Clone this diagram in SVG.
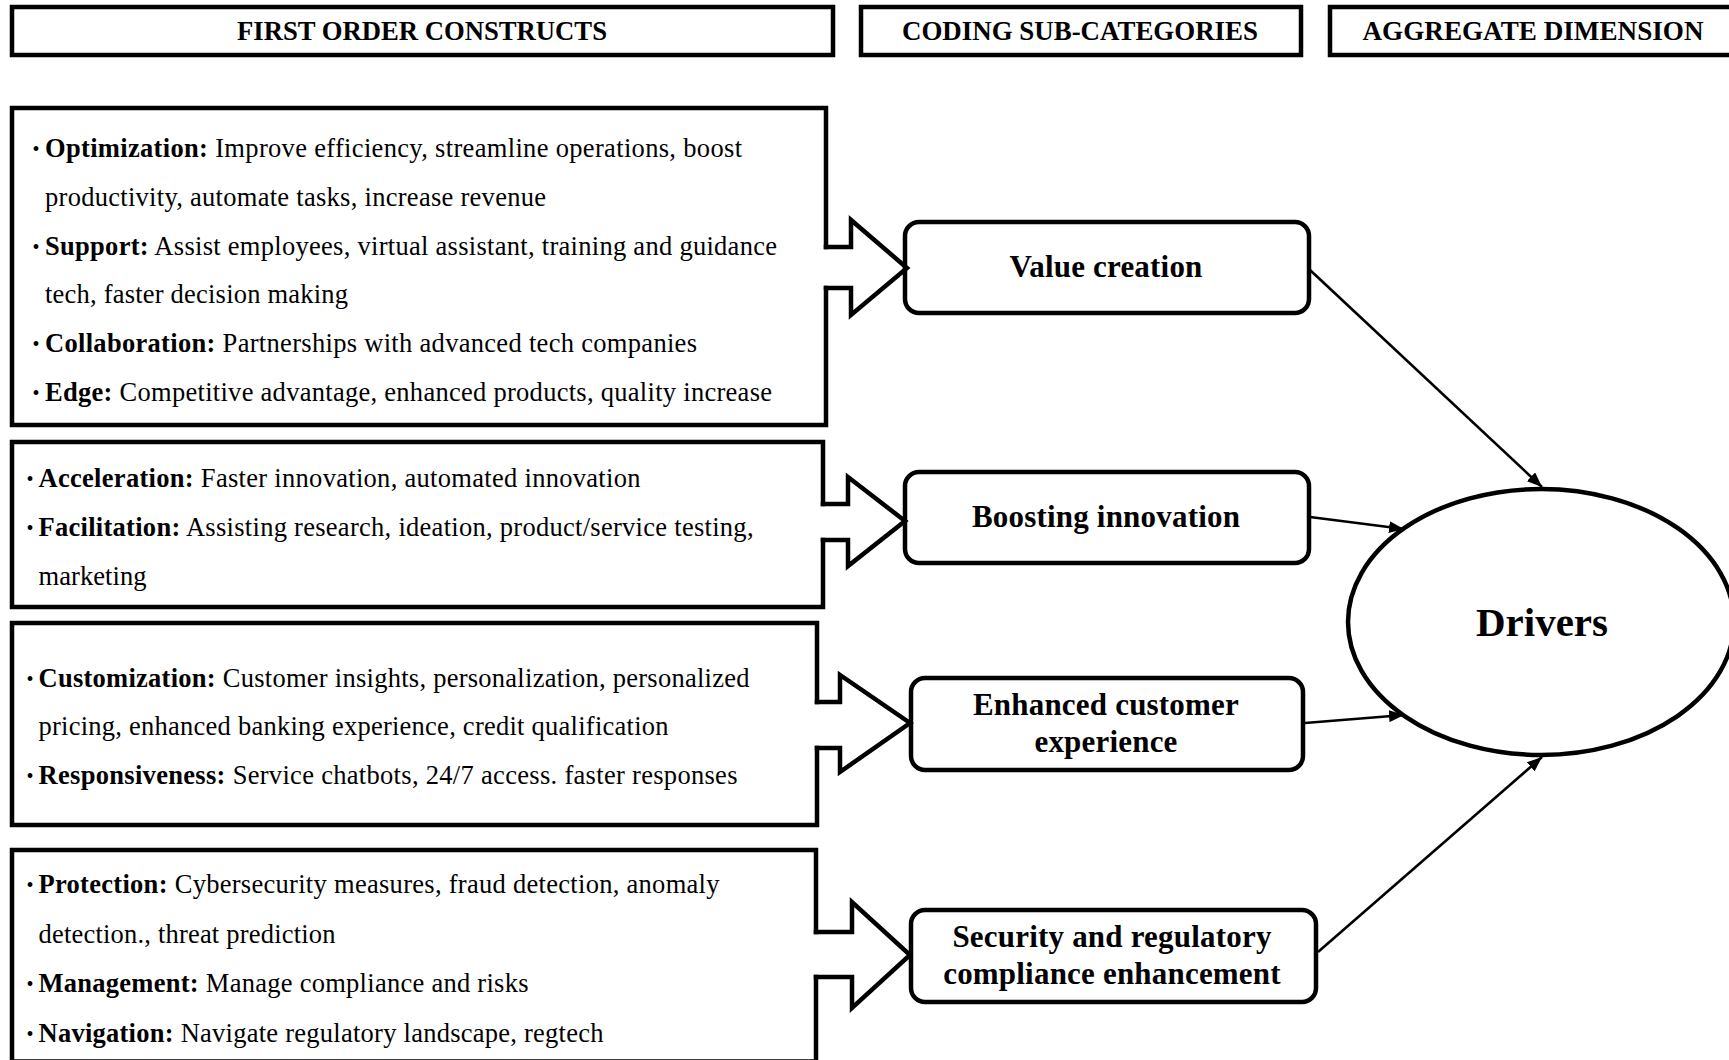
<svg xmlns="http://www.w3.org/2000/svg" width="1729" height="1060" viewBox="0 0 1729 1060">
<defs>
<marker id="ah" markerUnits="userSpaceOnUse" markerWidth="16" markerHeight="12" refX="15" refY="6" orient="auto"><path d="M0,0 L15,6 L0,12 z" fill="#000"/></marker>
<style>
.hdr {fill:#fff; stroke:#000; stroke-width:4.5}
.ht {font-family:"Liberation Serif","Times New Roman",serif; font-weight:bold; font-size:28px; text-anchor:middle; fill:#000}
.box {fill:none; stroke:#000; stroke-width:4.5; stroke-linejoin:miter; stroke-linecap:square}
.blk {fill:none; stroke:#000; stroke-width:4.5; stroke-linejoin:miter; stroke-linecap:square}
.bt {font-family:"Liberation Serif","Times New Roman",serif; font-size:26.5px; fill:#000}
.b {font-weight:bold}
.bul {font-family:"Liberation Serif","Times New Roman",serif; font-size:20px; text-anchor:middle; fill:#000}
.sub {fill:#fff; stroke:#000; stroke-width:4.5}
.st {font-family:"Liberation Serif","Times New Roman",serif; font-weight:bold; font-size:31px; letter-spacing:0.2px; text-anchor:middle; fill:#000}
.conn {stroke:#000; stroke-width:2.6; fill:none; marker-end:url(#ah)}
</style>
</defs>
<rect width="1729" height="1060" fill="#fff"/>

<g id="header-first-order">
<rect class="hdr" x="12" y="7" width="821" height="48"/>
<text class="ht" x="422" y="40" textLength="370" lengthAdjust="spacingAndGlyphs">FIRST ORDER CONSTRUCTS</text>
</g>
<g id="header-coding">
<rect class="hdr" x="861" y="7" width="440" height="48"/>
<text class="ht" x="1080" y="40" textLength="356" lengthAdjust="spacingAndGlyphs">CODING SUB-CATEGORIES</text>
</g>
<g id="header-aggregate">
<rect class="hdr" x="1330" y="7" width="420" height="48"/>
<text class="ht" x="1533" y="40" textLength="341" lengthAdjust="spacingAndGlyphs">AGGREGATE DIMENSION</text>
</g>

<g id="fo-value">
<path class="box" d="M826,247 V108 H12 V425 H826 V288"/>
<text class="bul" x="36" y="156">•</text>
<text class="bt" x="45" y="157" textLength="697"><tspan class="b">Optimization:</tspan> Improve efficiency, streamline operations, boost</text>
<text class="bt" x="45" y="206" textLength="501">productivity, automate tasks, increase revenue</text>
<text class="bul" x="36" y="254">•</text>
<text class="bt" x="45" y="255" textLength="732"><tspan class="b">Support:</tspan> Assist employees, virtual assistant, training and guidance</text>
<text class="bt" x="45" y="303" textLength="303">tech, faster decision making</text>
<text class="bul" x="36" y="351">•</text>
<text class="bt" x="45" y="352" textLength="652"><tspan class="b">Collaboration:</tspan> Partnerships with advanced tech companies</text>
<text class="bul" x="36" y="400">•</text>
<text class="bt" x="45" y="401" textLength="727"><tspan class="b">Edge:</tspan> Competitive advantage, enhanced products, quality increase</text>
</g>

<g id="fo-innovation">
<path class="box" d="M823,504 V442 H12 V607 H823 V540"/>
<text class="bul" x="30" y="486">•</text>
<text class="bt" x="38.5" y="487" textLength="602"><tspan class="b">Acceleration:</tspan> Faster innovation, automated innovation</text>
<text class="bul" x="30" y="535">•</text>
<text class="bt" x="38.5" y="536" textLength="715"><tspan class="b">Facilitation:</tspan> Assisting research, ideation, product/service testing,</text>
<text class="bt" x="38.5" y="585" textLength="108">marketing</text>
</g>

<g id="fo-customer">
<path class="box" d="M817,702 V623 H12 V825 H817 V748"/>
<text class="bul" x="30" y="686">•</text>
<text class="bt" x="38.5" y="687" textLength="711"><tspan class="b">Customization:</tspan> Customer insights, personalization, personalized</text>
<text class="bt" x="38.5" y="735" textLength="630">pricing, enhanced banking experience, credit qualification</text>
<text class="bul" x="30" y="783">•</text>
<text class="bt" x="38.5" y="784" textLength="699"><tspan class="b">Responsiveness:</tspan> Service chatbots, 24/7 access. faster responses</text>
</g>

<g id="fo-security">
<path class="box" d="M816,932 V850 H12 V1061.5 H816 V977"/>
<text class="bul" x="30" y="892">•</text>
<text class="bt" x="38.5" y="893" textLength="681"><tspan class="b">Protection:</tspan> Cybersecurity measures, fraud detection, anomaly</text>
<text class="bt" x="38.5" y="943" textLength="297">detection., threat prediction</text>
<text class="bul" x="30" y="991">•</text>
<text class="bt" x="38.5" y="992" textLength="490"><tspan class="b">Management:</tspan> Manage compliance and risks</text>
<text class="bul" x="30" y="1041">•</text>
<text class="bt" x="38.5" y="1042" textLength="565"><tspan class="b">Navigation:</tspan> Navigate regulatory landscape, regtech</text>
</g>

<g id="sub-value-creation">
<rect class="sub" x="905" y="222" width="404" height="91" rx="14"/>
<text class="st" x="1106" y="277">Value creation</text>
</g>
<g id="sub-boosting-innovation">
<rect class="sub" x="905" y="472" width="404" height="91" rx="14"/>
<text class="st" x="1106" y="527">Boosting innovation</text>
</g>
<g id="sub-enhanced-customer">
<rect class="sub" x="911" y="678" width="392" height="92" rx="14"/>
<text class="st" x="1106" y="715">Enhanced customer</text>
<text class="st" x="1106" y="752">experience</text>
</g>
<g id="sub-security">
<rect class="sub" x="911" y="910" width="405" height="92" rx="14"/>
<text class="st" x="1112" y="947">Security and regulatory</text>
<text class="st" x="1112" y="984">compliance enhancement</text>
</g>

<g id="drivers">
<ellipse cx="1541" cy="622" rx="193" ry="133" fill="#fff" stroke="#000" stroke-width="4.5"/>
<text x="1542" y="636" font-family="'Liberation Serif','Times New Roman',serif" font-weight="bold" font-size="41" text-anchor="middle">Drivers</text>
</g>

<g id="connectors">
<path class="blk" d="M826,247 H851 V220 L907,268 L851,315 V288 H826"/>
<path class="blk" d="M823,504 H848 V477 L905,521 L848,566 V540 H823"/>
<path class="blk" d="M817,702 H840 V675 L910,723 L840,772 V748 H817"/>
<path class="blk" d="M816,932 H852 V902 L910,955 L852,1008 V977 H816"/>
<line class="conn" x1="1310" y1="270" x2="1542" y2="487"/>
<line class="conn" x1="1310" y1="517" x2="1404" y2="529"/>
<line class="conn" x1="1305" y1="723" x2="1404" y2="715"/>
<line class="conn" x1="1318" y1="952" x2="1542" y2="757"/>
</g>
</svg>
